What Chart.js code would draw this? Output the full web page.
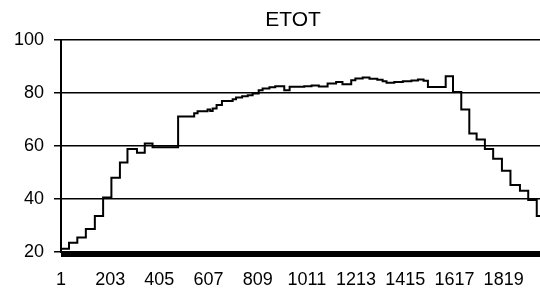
<!DOCTYPE html>
<html><head><meta charset="utf-8">
<script src="https://cdn.jsdelivr.net/npm/chart.js@4/dist/chart.umd.min.js"></script>
<style>html,body{margin:0;padding:0;background:#fff;overflow:hidden;width:540px;height:291px}#wrap{width:586px;height:291px}</style>
</head><body><div id="wrap"><canvas id="c" width="586" height="291"></canvas></div>
<script>
// Step start positions (record index) and ETOT value from that index onward
const stepStarts = [1, 34, 68, 103, 140, 174, 208, 243, 274, 313, 345, 377, 482, 548, 562, 603, 614, 624, 640, 662, 706, 720, 745, 768, 788, 813, 829, 857, 881, 918, 940, 1000, 1030, 1060, 1096, 1131, 1157, 1193, 1210, 1240, 1268, 1300, 1322, 1338, 1370, 1405, 1440, 1467, 1490, 1508, 1581, 1611, 1645, 1678, 1708, 1742, 1776, 1812, 1847, 1886, 1920, 1955, 1975];
const etotValues = [21.2, 23.5, 25.5, 28.7, 33.6, 40.6, 48.0, 53.8, 58.9, 57.5, 61.0, 59.6, 71.2, 72.4, 73.2, 73.8, 73.3, 74.2, 75.5, 77.0, 77.7, 78.4, 78.8, 79.2, 79.9, 81.1, 81.8, 82.2, 82.6, 81.1, 82.4, 82.6, 82.9, 82.5, 83.6, 84.2, 83.4, 84.9, 85.5, 85.9, 85.4, 85.1, 84.5, 83.9, 84.2, 84.5, 84.8, 85.2, 84.7, 82.3, 86.4, 80.4, 73.8, 64.8, 62.5, 58.9, 55.2, 50.7, 45.3, 43.1, 39.6, 33.6, 33.6];
const xLabelTicks = [1, 203, 405, 607, 809, 1011, 1213, 1415, 1617, 1819];
const yTickValues = [20, 40, 60, 80, 100];
const xMin = 1, xMax = 2108;

const points = stepStarts.map((x, i) => ({ x: x, y: etotValues[i] }));
const FONT = '"Liberation Sans", Arial, sans-serif';

new Chart(document.getElementById('c'), {
  type: 'line',
  data: { datasets: [{ data: points, stepped: 'before', borderColor: '#000', borderWidth: 2, pointRadius: 0, fill: false }] },
  options: {
    responsive: false, animation: false,
    layout: { padding: { left: 0, right: 0, top: 0, bottom: 0 } },
    plugins: {
      legend: { display: false }, tooltip: { enabled: false },
      title: { display: true, text: 'ETOT', color: '#000', font: { family: FONT, size: 21, weight: 'normal' }, padding: { top: 8, bottom: 7 } }
    },
    scales: {
      x: {
        type: 'linear', min: xMin, max: xMax,
        afterBuildTicks: s => { const t = []; for (let v = xMin; v <= xMax; v++) t.push({ value: v }); s.ticks = t; },
        afterFit: s => { s.height = 39; },
        ticks: { autoSkip: false, maxRotation: 0, minRotation: 0, color: '#000', font: { family: FONT, size: 18 }, padding: 12,
          callback: v => xLabelTicks.includes(v) ? String(v) : '' },
        grid: { drawOnChartArea: false, drawTicks: true, tickLength: 5, color: '#000', lineWidth: 1 },
        border: { display: true, color: '#000', width: 2 }
      },
      y: {
        min: 20, max: 100,
        afterBuildTicks: s => { s.ticks = yTickValues.map(v => ({ value: v })); },
        afterFit: s => { s.width = 61; },
        ticks: { color: '#000', font: { family: FONT, size: 18 }, padding: 10 },
        grid: { color: '#000', lineWidth: 1.5, tickLength: 7, drawTicks: true },
        border: { display: true, color: '#000', width: 2 }
      }
    }
  }
});
</script></body></html>
